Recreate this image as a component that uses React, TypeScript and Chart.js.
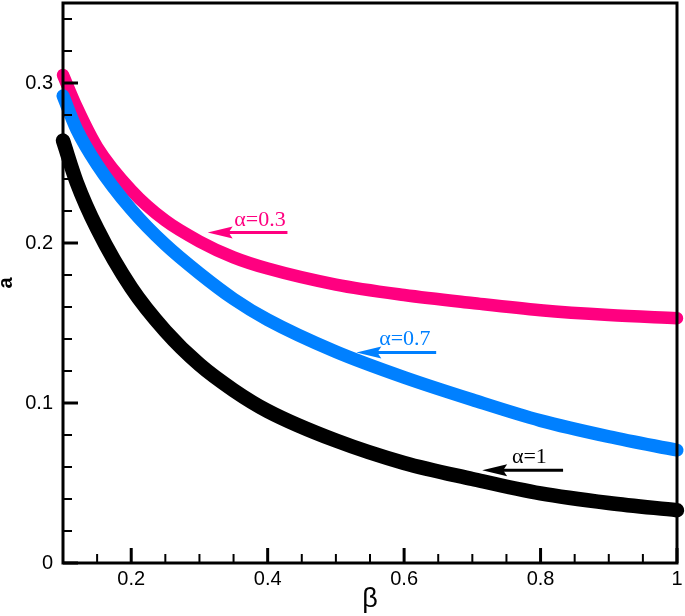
import React, { useEffect, useRef } from "react";
import { Chart, registerables } from "chart.js";

Chart.register(...registerables);

// ---- data ----
const beta = [0.1, 0.12, 0.15, 0.2, 0.25, 0.3, 0.35, 0.4, 0.5, 0.6, 0.7, 0.8, 0.9, 1.0];
const aAlpha03 = [0.305, 0.285, 0.26, 0.233, 0.214, 0.201, 0.191, 0.184, 0.174, 0.1675, 0.1625, 0.158, 0.155, 0.153];
const aAlpha07 = [0.292, 0.271, 0.249, 0.221, 0.199, 0.181, 0.165, 0.152, 0.132, 0.116, 0.102, 0.089, 0.079, 0.0705];
const aAlpha1 = [0.264, 0.238, 0.209, 0.172, 0.145, 0.124, 0.108, 0.095, 0.0765, 0.0625, 0.0525, 0.0435, 0.0375, 0.033];

const xTickLabels = [0.2, 0.4, 0.6, 0.8, 1];
const yTickLabels = [0, 0.1, 0.2, 0.3];
const xRange = [0.1, 1];
const yRange = [0, 0.35];
const xMinorStep = 0.05;
const yMinorStep = 0.02;

const seriesNames = ["α=0.7", "α=0.3", "α=1"];

// annotation arrows (in data coordinates)
const annLabels = ["α=0.3", "α=0.7", "α=1"];
const annArrowY = [0.2065, 0.1315, 0.058];
const annArrowTail = [0.429, 0.647, 0.833];
const annArrowTip = [0.312, 0.53, 0.7144];
const annTextX = [0.351, 0.5634, 0.758];
const annTextY = [0.2104, 0.136, 0.0624];

const PINK = "#FF0080";
const BLUE = "#0080FF";
const BLACK = "#000000";
const annColors = [PINK, BLUE, BLACK];

const fmt = (v: number) => String(parseFloat(Number(v).toFixed(2)));

const decorPlugin = {
  id: "decor",
  afterDatasetsDraw(chart: any) {
    const { ctx, chartArea, scales } = chart;
    const { left, right, top, bottom } = chartArea;
    const xs = scales.x;
    const ys = scales.y;
    ctx.save();

    // annotations
    for (let i = 0; i < annLabels.length; i++) {
      const col = annColors[i];
      const yP = ys.getPixelForValue(annArrowY[i]);
      const tailP = xs.getPixelForValue(annArrowTail[i]);
      const tipP = xs.getPixelForValue(annArrowTip[i]);
      ctx.strokeStyle = col;
      ctx.fillStyle = col;
      ctx.lineWidth = 3;
      ctx.beginPath();
      ctx.moveTo(tailP, yP);
      ctx.lineTo(tipP + 20, yP);
      ctx.stroke();
      ctx.beginPath();
      ctx.moveTo(tipP, yP);
      ctx.lineTo(tipP + 25, yP - 6);
      ctx.lineTo(tipP + 21, yP);
      ctx.lineTo(tipP + 25, yP + 6);
      ctx.closePath();
      ctx.fill();
      ctx.font = "22px 'Liberation Serif'";
      ctx.textAlign = "left";
      ctx.textBaseline = "alphabetic";
      ctx.fillText(annLabels[i], xs.getPixelForValue(annTextX[i]), ys.getPixelForValue(annTextY[i]));
    }

    // ticks
    ctx.strokeStyle = "#000";
    const nx = Math.round((xRange[1] - xRange[0]) / xMinorStep);
    for (let i = 0; i <= nx; i++) {
      const v = xRange[0] + i * xMinorStep;
      const major = xTickLabels.some((t) => Math.abs(t - v) < 1e-9);
      const px = xs.getPixelForValue(v);
      ctx.lineWidth = major ? 3 : 2;
      ctx.beginPath();
      ctx.moveTo(px, bottom);
      ctx.lineTo(px, bottom - (major ? 15 : 9));
      ctx.stroke();
    }
    const ny = Math.floor((yRange[1] - yRange[0]) / yMinorStep + 1e-9);
    for (let i = 0; i <= ny; i++) {
      const v = yRange[0] + i * yMinorStep;
      const major = yTickLabels.some((t) => Math.abs(t - v) < 1e-9);
      const py = ys.getPixelForValue(v);
      ctx.lineWidth = major ? 3 : 2;
      ctx.beginPath();
      ctx.moveTo(left, py);
      ctx.lineTo(left + (major ? 15 : 9), py);
      ctx.stroke();
    }

    // frame
    ctx.lineWidth = 3;
    ctx.strokeRect(left, top, right - left, bottom - top);

    // axis titles
    ctx.fillStyle = "#000";
    ctx.font = "27px 'Liberation Sans'";
    ctx.textAlign = "center";
    ctx.textBaseline = "alphabetic";
    ctx.fillText("β", (left + right) / 2, bottom + 44);

    ctx.save();
    ctx.translate(11.7, (top + bottom) / 2);
    ctx.rotate(-Math.PI / 2);
    ctx.font = "bold 20px 'Liberation Sans'";
    ctx.textAlign = "center";
    ctx.textBaseline = "alphabetic";
    ctx.fillText("a", 0, 0);
    ctx.restore();

    ctx.restore();
  },
};

const tickFont = { family: "'Liberation Sans'", size: 20 };

export default function App() {
  const ref = useRef<HTMLCanvasElement | null>(null);
  useEffect(() => {
    document.body.style.margin = "0";
    const canvas = ref.current;
    if (!canvas) return;
    const mk = (ys: number[]) => beta.map((b, i) => ({ x: b, y: ys[i] }));
    const chart = new Chart(canvas, {
      type: "line",
      data: {
        datasets: [
          {
            label: seriesNames[0],
            data: mk(aAlpha07),
            borderColor: BLUE,
            borderWidth: 13,
          },
          {
            label: seriesNames[1],
            data: mk(aAlpha03),
            borderColor: PINK,
            borderWidth: 12.5,
          },
          {
            label: seriesNames[2],
            data: mk(aAlpha1),
            borderColor: BLACK,
            borderWidth: 14.5,
          },
        ].map((d) => ({
          ...d,
          pointRadius: 0,
          pointHoverRadius: 0,
          fill: false,
          cubicInterpolationMode: "monotone" as const,
          borderCapStyle: "round" as const,
          borderJoinStyle: "round" as const,
          clip: false as any,
        })),
      },
      options: {
        responsive: false,
        animation: false,
        events: [],
        layout: { padding: { top: 3, right: 8, left: 0, bottom: 0 } },
        plugins: {
          legend: { display: false },
          tooltip: { enabled: false },
          title: { display: false },
        },
        scales: {
          x: {
            type: "linear",
            min: xRange[0],
            max: xRange[1],
            afterBuildTicks: (s: any) => {
              s.ticks = xTickLabels.map((v) => ({ value: v }));
            },
            afterFit: (s: any) => {
              s.height = 53;
              s.paddingLeft = 0;
              s.paddingRight = 0;
              s.paddingTop = 0;
              s.paddingBottom = 0;
            },
            grid: { display: false, drawTicks: false },
            border: { display: false },
            ticks: {
              padding: 4,
              color: "#000",
              font: tickFont,
              maxRotation: 0,
              autoSkip: false,
              callback: (v: any) => fmt(v),
            },
          },
          y: {
            type: "linear",
            min: yRange[0],
            max: yRange[1],
            afterBuildTicks: (s: any) => {
              s.ticks = yTickLabels.map((v) => ({ value: v }));
            },
            afterFit: (s: any) => {
              s.width = 63;
              s.paddingLeft = 0;
              s.paddingRight = 0;
              s.paddingTop = 0;
              s.paddingBottom = 0;
            },
            grid: { display: false, drawTicks: false },
            border: { display: false },
            ticks: {
              padding: 10,
              color: "#000",
              font: tickFont,
              autoSkip: false,
              callback: (v: any) => fmt(v),
            },
          },
        },
      },
      plugins: [decorPlugin],
    });
    return () => chart.destroy();
  }, []);
  return (
    <div style={{ width: 685, height: 616 }}>
      <canvas ref={ref} width={685} height={616} style={{ display: "block" }} />
    </div>
  );
}
